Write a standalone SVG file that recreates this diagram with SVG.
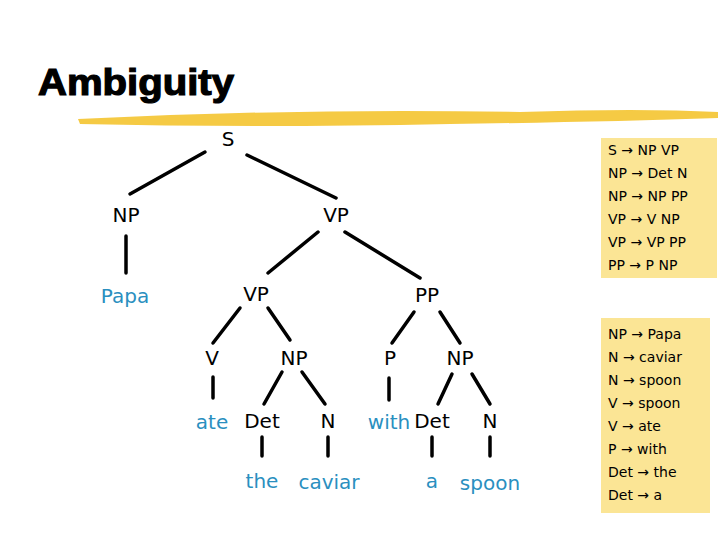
<svg xmlns="http://www.w3.org/2000/svg" width="720" height="540" viewBox="0 0 720 540">
<style>
.n{font-family:"DejaVu Sans",Verdana,sans-serif;font-size:20px;fill:#000;text-anchor:middle}
.w{fill:#2a8fbf}
.g{font-family:"DejaVu Sans",Verdana,sans-serif;font-size:14px;fill:#000}
.e{stroke:#000;stroke-width:3.5;stroke-linecap:round}
.box{fill:#fbe595}
</style>
<rect width="720" height="540" fill="#fff"/>
<text x="38" y="95" font-family="Liberation Sans,Arial,sans-serif" font-weight="bold" font-size="36" stroke="#000" stroke-width="1.2" textLength="196" lengthAdjust="spacingAndGlyphs">Ambiguity</text>
<path d="M78,119 Q300,108 520,112 Q640,108 718,112 L718,118 Q600,122 450,124 Q250,128 80,124 Z" fill="#f4c430" opacity="0.9"/>
<g id="edges">
<line class="e" x1="205" y1="152" x2="130" y2="194"/>
<line class="e" x1="247" y1="155" x2="336" y2="198"/>
<line class="e" x1="126" y1="236" x2="126" y2="273"/>
<line class="e" x1="318" y1="232" x2="268" y2="273"/>
<line class="e" x1="345" y1="232" x2="420" y2="278"/>
<line class="e" x1="240" y1="308" x2="213" y2="343"/>
<line class="e" x1="268" y1="308" x2="290" y2="340"/>
<line class="e" x1="414" y1="312" x2="392" y2="343"/>
<line class="e" x1="440" y1="312" x2="460" y2="343"/>
<line class="e" x1="213" y1="377" x2="213" y2="398"/>
<line class="e" x1="282" y1="372" x2="264" y2="404"/>
<line class="e" x1="302" y1="372" x2="325" y2="404"/>
<line class="e" x1="389" y1="378" x2="389" y2="400"/>
<line class="e" x1="452" y1="374" x2="438" y2="404"/>
<line class="e" x1="472" y1="374" x2="490" y2="404"/>
<line class="e" x1="262" y1="437" x2="262" y2="456"/>
<line class="e" x1="328" y1="437" x2="328" y2="456"/>
<line class="e" x1="432" y1="437" x2="432" y2="456"/>
<line class="e" x1="490" y1="437" x2="490" y2="456"/>
</g>
<g id="S"><text class="n" x="228" y="146">S</text></g>
<g id="NP1"><text class="n" x="126" y="222">NP</text></g>
<g id="VP1"><text class="n" x="336" y="222">VP</text></g>
<g id="Papa"><text class="n w" x="125" y="303">Papa</text></g>
<g id="VP2"><text class="n" x="256" y="301">VP</text></g>
<g id="PP"><text class="n" x="427" y="302">PP</text></g>
<g id="V"><text class="n" x="212" y="365">V</text></g>
<g id="NP2"><text class="n" x="294" y="365">NP</text></g>
<g id="P"><text class="n" x="390" y="365">P</text></g>
<g id="NP3"><text class="n" x="460" y="365">NP</text></g>
<g id="ate"><text class="n w" x="212" y="429">ate</text></g>
<g id="Det1"><text class="n" x="262" y="428">Det</text></g>
<g id="N1"><text class="n" x="328" y="428">N</text></g>
<g id="with"><text class="n w" x="389" y="429">with</text></g>
<g id="Det2"><text class="n" x="432" y="428">Det</text></g>
<g id="N2"><text class="n" x="490" y="428">N</text></g>
<g id="the"><text class="n w" x="262" y="488">the</text></g>
<g id="caviar"><text class="n w" x="329" y="489">caviar</text></g>
<g id="a"><text class="n w" x="432" y="488">a</text></g>
<g id="spoon"><text class="n w" x="490" y="490">spoon</text></g>
<g id="rules1">
<rect class="box" x="601" y="138" width="116" height="140"/>
<text class="g" x="608" y="155">S → NP VP</text>
<text class="g" x="608" y="178">NP → Det N</text>
<text class="g" x="608" y="201">NP → NP PP</text>
<text class="g" x="608" y="224">VP → V NP</text>
<text class="g" x="608" y="247">VP → VP PP</text>
<text class="g" x="608" y="270">PP → P NP</text>
</g>
<g id="rules2">
<rect class="box" x="601" y="318" width="109" height="195"/>
<text class="g" x="608" y="339">NP → Papa</text>
<text class="g" x="608" y="362">N → caviar</text>
<text class="g" x="608" y="385">N → spoon</text>
<text class="g" x="608" y="408">V → spoon</text>
<text class="g" x="608" y="431">V → ate</text>
<text class="g" x="608" y="454">P → with</text>
<text class="g" x="608" y="477">Det → the</text>
<text class="g" x="608" y="500">Det → a</text>
</g>
</svg>
